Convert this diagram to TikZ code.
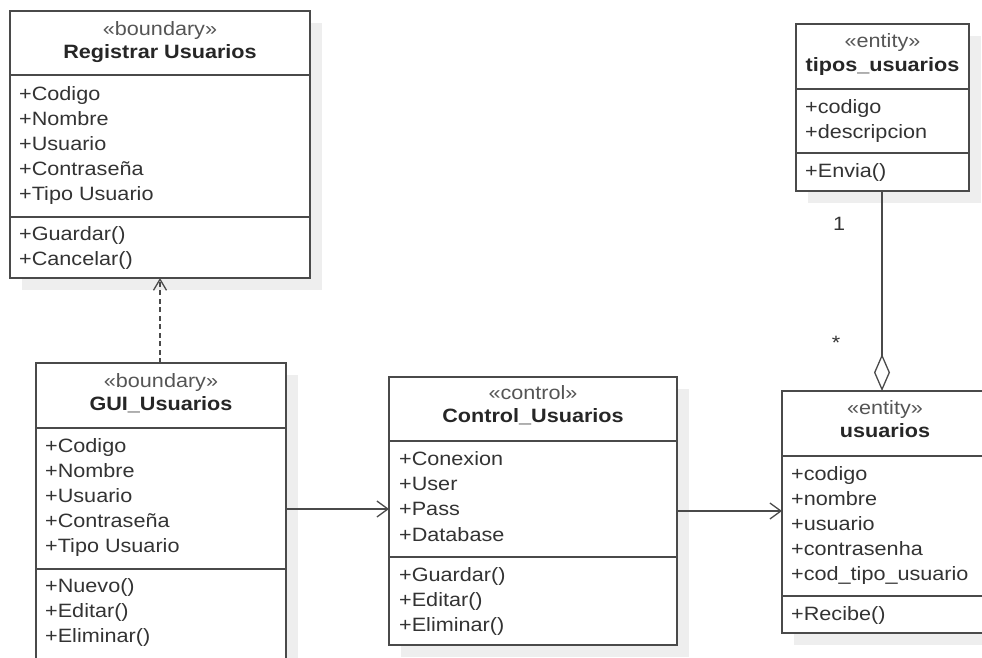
\documentclass[tikz,border=0pt]{standalone}
\usepackage{fontspec}
\setmainfont{Liberation Sans}[FakeStretch=1.12]
\usetikzlibrary{arrows.meta,shadows}
\definecolor{ln}{HTML}{4A4A4A}
\definecolor{tx}{HTML}{333333}
\definecolor{stc}{HTML}{555555}
\definecolor{shd}{HTML}{EEEEEE}
\tikzset{
  clsbox/.style={draw=ln, line width=1.5pt, fill=white, anchor=north west,
    inner sep=0pt, outer sep=0pt,
    drop shadow={shadow xshift=12pt, shadow yshift=-12pt, fill=shd, opacity=1}},
  divl/.style={draw=ln, line width=1.5pt},
  itm/.style={anchor=base west, inner sep=0pt, text=tx, font=\fontsize{19.3}{22}\selectfont},
  stereo/.style={anchor=base, inner sep=0pt, text=stc, font=\fontsize{19.3}{22}\selectfont},
  ttl/.style={anchor=base, inner sep=0pt, text=black!85, font=\fontsize{19.3}{22}\selectfont\bfseries},
  mult/.style={anchor=base, inner sep=0pt, text=tx, font=\fontsize{19.3}{22}\selectfont},
  assoc/.style={draw=ln, line width=1.3pt, -{Straight Barb[length=11pt,width=16pt,line width=1.3pt]}},
  dep/.style={draw=ln, line width=1.3pt, dash pattern=on 5pt off 3.5pt,
    -{Straight Barb[length=11pt,width=13pt,line width=1.3pt]}},
  aggr/.style={draw=ln, line width=1.3pt, -{Diamond[open,fill=white,length=37pt,width=16pt,line width=1.3pt]}}
}
\newcommand\umlitems[4]{%
  \foreach \itx [count=\i from 0] in {#4}{\node[itm] (#1\i) at (#2,#3+25.2*\i) {\itx};}}
\begin{document}
\begin{tikzpicture}[x=1pt,y=-1pt]
\useasboundingbox (0,0) rectangle (982,657);
\clip (0,0) rectangle (982,657);

% Registrar Usuarios
\node[clsbox, minimum width=300pt, minimum height=267pt] (reg) at (10,11) {};
\draw[divl] (reg.west |- 0,75) -- (reg.east |- 0,75);
\draw[divl] (reg.west |- 0,217) -- (reg.east |- 0,217);
\node[stereo] (reg-s) at (160,35) {«boundary»};
\node[ttl] (reg-t) at (160,58) {Registrar Usuarios};
\umlitems{reg-a}{19}{100}{+Codigo,+Nombre,+Usuario,+Contraseña,+Tipo Usuario}
\umlitems{reg-m}{19}{240}{+Guardar(),+Cancelar()}

% GUI_Usuarios
\node[clsbox, minimum width=250pt, minimum height=310pt] (gui) at (36,363) {};
\draw[divl] (gui.west |- 0,428) -- (gui.east |- 0,428);
\draw[divl] (gui.west |- 0,569) -- (gui.east |- 0,569);
\node[stereo] (gui-s) at (161,387) {«boundary»};
\node[ttl] (gui-t) at (161,410) {GUI\_Usuarios};
\umlitems{gui-a}{45}{452}{+Codigo,+Nombre,+Usuario,+Contraseña,+Tipo Usuario}
\umlitems{gui-m}{45}{592}{+Nuevo(),+Editar(),+Eliminar()}

% Control_Usuarios
\node[clsbox, minimum width=288pt, minimum height=268pt] (ctrl) at (389,377) {};
\draw[divl] (ctrl.west |- 0,441) -- (ctrl.east |- 0,441);
\draw[divl] (ctrl.west |- 0,557) -- (ctrl.east |- 0,557);
\node[stereo] (ctrl-s) at (533,399) {«control»};
\node[ttl] (ctrl-t) at (533,422) {Control\_Usuarios};
\umlitems{ctrl-a}{399}{465.5}{+Conexion,+User,+Pass,+Database}
\umlitems{ctrl-m}{399}{581.5}{+Guardar(),+Editar(),+Eliminar()}

% tipos_usuarios
\node[clsbox, minimum width=173pt, minimum height=167pt] (tip) at (796,24) {};
\draw[divl] (tip.west |- 0,89) -- (tip.east |- 0,89);
\draw[divl] (tip.west |- 0,153) -- (tip.east |- 0,153);
\node[stereo] (tip-s) at (882.5,47) {«entity»};
\node[ttl] (tip-t) at (882.5,71) {tipos\_usuarios};
\umlitems{tip-a}{805}{113}{+codigo,+descripcion}
\umlitems{tip-m}{805}{177.5}{+Envia()}

% usuarios
\node[clsbox, minimum width=206pt, minimum height=242pt] (usr) at (782,391) {};
\draw[divl] (usr.west |- 0,456) -- (usr.east |- 0,456);
\draw[divl] (usr.west |- 0,596) -- (usr.east |- 0,596);
\node[stereo] (usr-s) at (885,414) {«entity»};
\node[ttl] (usr-t) at (885,437) {usuarios};
\umlitems{usr-a}{791}{480}{+codigo,+nombre,+usuario,+contrasenha,+cod\_tipo\_usuario}
\umlitems{usr-m}{791}{620}{+Recibe()}

% connectors
\draw[dep] (160,0 |- gui.north) -- (160,0 |- reg.south);
\draw[assoc] (gui.east |- 0,509) -- (ctrl.west |- 0,509);
\draw[assoc] (ctrl.east |- 0,511) -- (usr.west |- 0,511);
\draw[aggr] (882,0 |- tip.south) -- (882,0 |- usr.north);
\node[mult] (m1) at (839,230) {1};
\node[mult] (m2) at (836,349) {*};
\end{tikzpicture}
\end{document}
